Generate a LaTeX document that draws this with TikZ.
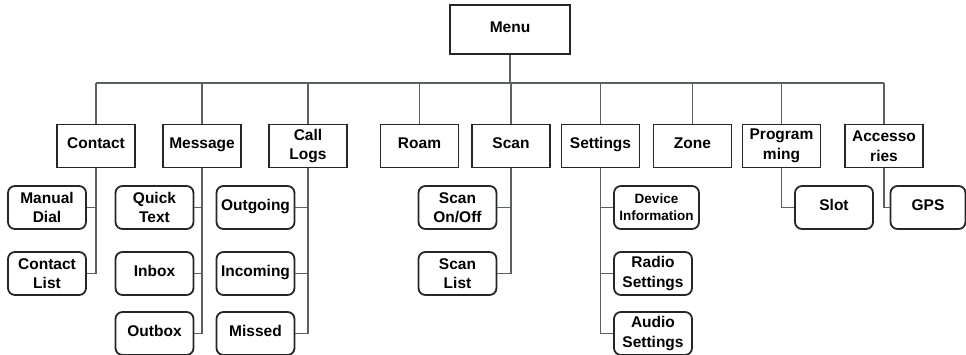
\documentclass[tikz,border=0pt]{standalone}
\usepackage{fontspec}
\setmainfont{Liberation Sans}
\begin{document}
\begin{tikzpicture}[x=1pt,y=-1pt,
  topbox/.style={draw=black!85, line width=1.8pt, fill=white, minimum width=78pt, minimum height=43pt, inner sep=0pt, align=center, font=\fontsize{15.5}{19.5}\selectfont\bfseries},
  oneline/.style={text height=0.72em, text depth=0.2em},
  childbox/.style={topbox, rounded corners=7pt},
  conn/.style={draw={rgb,255:red,88;green,98;blue,98}, line width=1.7pt}]
\useasboundingbox (0,0) rectangle (966,355);
\node[topbox, oneline, minimum width=120pt, minimum height=49pt] (menu) at (510,29.5) {Menu};
\coordinate (bus) at (510,83);
\node[topbox, oneline] (contact) at (96,146) {Contact};
\node[topbox, oneline] (message) at (202,146) {Message};
\node[topbox] (calllogs) at (308,146) {Call\\Logs};
\node[topbox, oneline] (roam) at (419.5,146) {Roam};
\node[topbox, oneline] (scan) at (511,146) {Scan};
\node[topbox, oneline] (settings) at (600.5,146) {Settings};
\node[topbox, oneline] (zone) at (692.5,146) {Zone};
\node[topbox] (prog) at (781.5,146) {Program\\ming};
\node[topbox] (acc) at (884,146) {Accesso\\ries};
% children
\node[childbox] (manual) at (47,207.5) {Manual\\Dial};
\node[childbox] (clist) at (47,273.5) {Contact\\List};
\node[childbox] (quick) at (154.5,207.5) {Quick\\Text};
\node[childbox, oneline] (inbox) at (154.5,273.5) {Inbox};
\node[childbox, oneline] (outbox) at (154.5,333.5) {Outbox};
\node[childbox, oneline] (outgoing) at (255.5,207.5) {Outgoing};
\node[childbox, oneline] (incoming) at (255.5,273.5) {Incoming};
\node[childbox, oneline] (missed) at (255.5,333.5) {Missed};
\node[childbox] (scanonoff) at (457.5,207.5) {Scan\\On/Off};
\node[childbox] (scanlist) at (457.5,273.5) {Scan\\List};
\node[childbox, minimum width=85pt, font=\fontsize{13.5}{17}\selectfont\bfseries] (device) at (656.5,207.5) {Device\\Information};
\node[childbox] (radio) at (653,273.5) {Radio\\Settings};
\node[childbox] (audio) at (653,333.5) {Audio\\Settings};
\node[childbox, oneline] (slot) at (834,207.5) {Slot};
\node[childbox, oneline, minimum width=75pt] (gps) at (928,207.5) {GPS};
% connectors
\draw[conn] (menu.south) -- (bus);
\draw[conn] (contact.north |- bus) -- (acc.north |- bus);
\foreach \n in {contact,message,calllogs,roam,scan,settings,zone,prog,acc}
  \draw[conn] (\n.north) -- (\n.north |- bus);
\draw[conn] (contact.south) |- (clist.east);
\draw[conn] (manual.east) -- (manual.east -| contact.south);
\draw[conn] (message.south) |- (outbox.east);
\draw[conn] (quick.east) -- (quick.east -| message.south);
\draw[conn] (inbox.east) -- (inbox.east -| message.south);
\draw[conn] (calllogs.south) |- (missed.east);
\draw[conn] (outgoing.east) -- (outgoing.east -| calllogs.south);
\draw[conn] (incoming.east) -- (incoming.east -| calllogs.south);
\draw[conn] (scan.south) |- (scanlist.east);
\draw[conn] (scanonoff.east) -- (scanonoff.east -| scan.south);
\draw[conn] (settings.south) |- (audio.west);
\draw[conn] (device.west) -- (device.west -| settings.south);
\draw[conn] (radio.west) -- (radio.west -| settings.south);
\draw[conn] (prog.south) |- (slot.west);
\draw[conn] (acc.south) |- (gps.west);
\end{tikzpicture}
\end{document}
